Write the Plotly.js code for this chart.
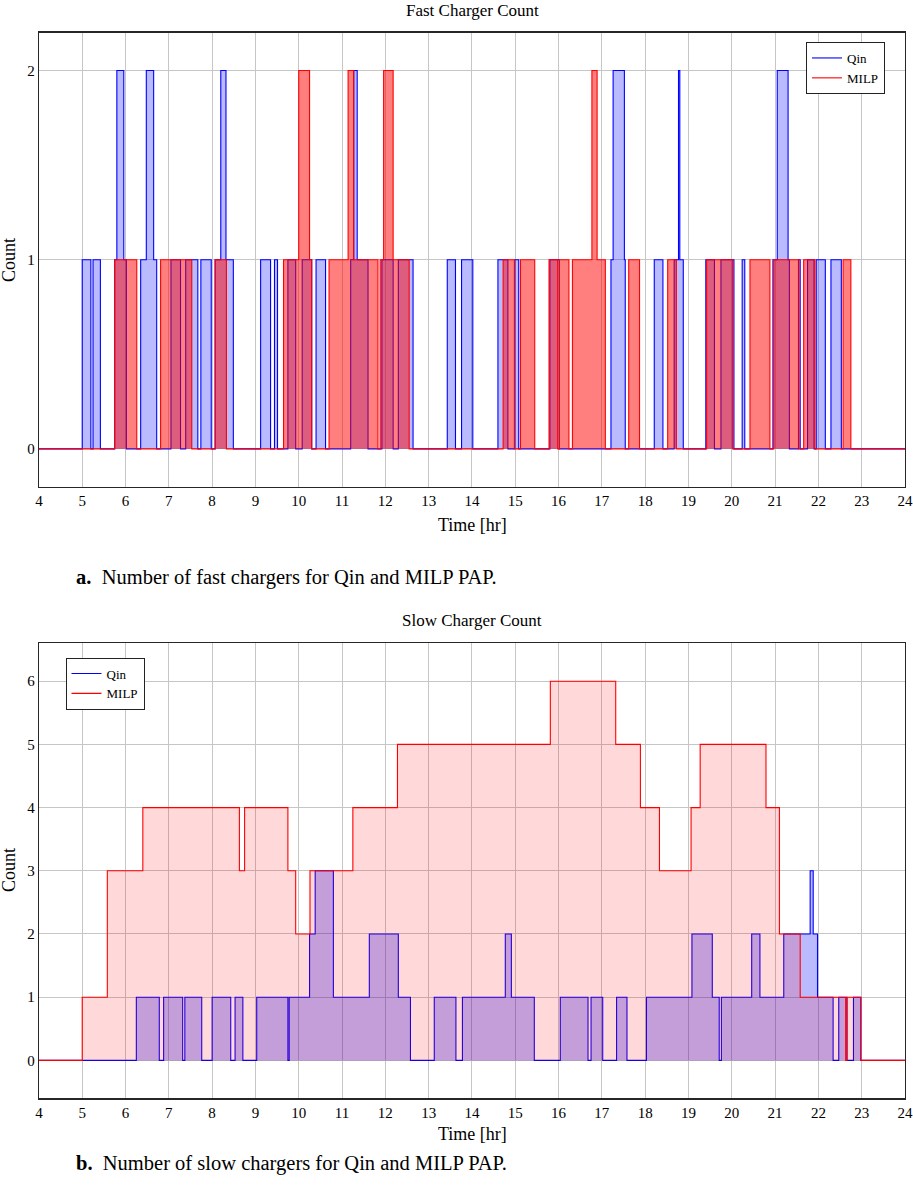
<!DOCTYPE html>
<html>
<head>
<meta charset="utf-8">
<script src="https://cdn.plot.ly/plotly-3.0.1.min.js"></script>
<style>
  html, body { margin: 0; padding: 0; background: #fff; }
  #chart { width: 913px; height: 1185px; }
</style>
</head>
<body>
<div id="chart"></div>
<script>
// Each series is a list of change points: time [hr] and the count from that time on.

// fast chargers, Qin
const qinFastT = [4, 5.0, 5.2, 5.25, 5.42, 5.75, 5.8, 5.96, 6.02, 6.35, 6.48, 6.65, 6.72,
  7.05, 7.27, 7.39, 7.67, 7.74, 7.98, 8.07, 8.2, 8.32, 8.49, 9.12, 9.35, 9.44, 9.51,
  9.75, 9.93, 10.08, 10.3, 10.4, 10.62, 11.2, 11.27, 11.35, 11.6, 11.92, 12.18, 12.3, 12.64,
  13.43, 13.62, 13.76, 14.02, 14.6, 14.83, 14.99, 15.08, 15.8, 16.02,
  17.21, 17.26, 17.52, 17.54, 18.21, 18.41, 18.67, 18.77, 18.8, 18.88,
  19.4, 19.6, 19.75, 20.05, 20.24, 20.3, 20.95, 21.05, 21.3, 21.33,
  21.54, 21.58, 21.75, 21.9, 21.95, 22.16, 22.29, 22.53, 24];
const qinFastN = [0, 1, 0, 1, 0, 1, 2, 1, 0, 1, 2, 1, 0,
  1, 0, 1, 0, 1, 0, 1, 2, 1, 0, 1, 0, 1, 0,
  1, 0, 1, 0, 1, 0, 1, 2, 1, 0, 1, 0, 1, 0,
  1, 0, 1, 0, 1, 0, 1, 0, 1, 0,
  1, 2, 1, 0, 1, 0, 1, 2, 1, 0,
  1, 0, 1, 0, 1, 0, 1, 2, 1, 0,
  1, 0, 1, 0, 1, 0, 1, 0, 0];

// fast chargers, MILP
const milpFastT = [4, 5.75, 6.26, 6.81, 7.53, 8.07, 8.33,
  9.65, 10.0, 10.25, 10.3, 10.7, 11.14, 11.27, 11.83, 11.88, 11.96, 12.18, 12.55,
  14.72, 14.98, 15.12, 15.45, 15.78, 15.98, 16.02, 16.24, 16.32, 16.77, 16.89, 17.08,
  17.62, 17.87, 18.52, 18.72, 19.42, 20.02, 20.42, 20.88, 20.97, 21.55,
  21.66, 21.92, 22.57, 22.75, 24];
const milpFastN = [0, 1, 0, 1, 0, 1, 0,
  1, 2, 1, 0, 1, 2, 1, 0, 1, 2, 1, 0,
  1, 0, 1, 0, 1, 0, 1, 0, 1, 2, 1, 0,
  1, 0, 1, 0, 1, 0, 1, 0, 1, 0,
  1, 0, 1, 0, 0];

// slow chargers, Qin
const qinSlowT = [4, 6.25, 6.78, 6.88, 7.32, 7.37, 7.76, 8.0, 8.43, 8.53, 8.71,
  9.03, 9.75, 9.78, 10.25, 10.38, 10.8, 11.63, 12.3, 12.58, 13.13, 13.63, 13.78,
  14.77, 14.91, 15.44, 16.04, 16.68, 16.75, 17.02, 17.34, 17.58, 18.03,
  19.08, 19.55, 19.71, 19.76, 20.46, 20.65, 21.2, 21.81, 21.88, 21.98,
  22.34, 22.47, 22.66, 22.81, 22.98, 24];
const qinSlowN = [0, 1, 0, 1, 0, 1, 0, 1, 0, 1, 0,
  1, 0, 1, 2, 3, 1, 2, 1, 0, 1, 0, 1,
  2, 1, 0, 1, 0, 1, 0, 1, 0, 1,
  2, 1, 0, 1, 2, 1, 2, 3, 2, 1,
  0, 1, 0, 1, 0, 0];

// slow chargers, MILP
const milpSlowT = [4, 5.0, 5.58, 6.4, 8.63, 8.75, 9.75, 9.93, 10.26, 11.25, 12.28,
  15.81, 17.32, 17.89, 18.33, 19.06, 19.27, 20.79, 21.1, 21.58, 22.63, 22.66, 22.98, 24];
const milpSlowN = [0, 1, 3, 4, 3, 4, 3, 2, 3, 4, 5,
  6, 5, 4, 3, 4, 5, 4, 2, 1, 0, 1, 0, 0];

const W = 913, H = 1185;
const px = x => x / W;
const py = y => 1 - y / H;
const serif = 'Liberation Serif, Times New Roman, serif';

function stepTrace(t, n, color, fill, xa, ya) {
  return {
    x: t, y: n, type: 'scatter', mode: 'lines',
    line: { color: color, width: 1.1, shape: 'hv' },
    fill: 'tozeroy', fillcolor: fill,
    xaxis: xa, yaxis: ya, showlegend: false, hoverinfo: 'skip'
  };
}

// legend entries show only the line, as in the original
function legendEntry(name, color, xa, ya, legend) {
  return {
    x: [null], y: [null], type: 'scatter', mode: 'lines', name: name,
    line: { color: color, width: 1.1 }, xaxis: xa, yaxis: ya, legend: legend
  };
}

const traces = [
  stepTrace(qinFastT, qinFastN, '#0000ff', 'rgba(0,0,255,0.27)', 'x', 'y'),
  stepTrace(milpFastT, milpFastN, '#ff0000', 'rgba(255,0,0,0.5)', 'x', 'y'),
  stepTrace(qinSlowT, qinSlowN, '#0000ff', 'rgba(0,0,255,0.27)', 'x2', 'y2'),
  stepTrace(milpSlowT, milpSlowN, '#ff0000', 'rgba(255,0,0,0.15)', 'x2', 'y2'),
  legendEntry('Qin', '#0000ff', 'x', 'y', 'legend'),
  legendEntry('MILP', '#ff0000', 'x', 'y', 'legend'),
  legendEntry('Qin', '#0000ff', 'x2', 'y2', 'legend2'),
  legendEntry('MILP', '#ff0000', 'x2', 'y2', 'legend2')
];

const axisBase = {
  showgrid: true, gridcolor: '#c6c6c6', gridwidth: 1,
  zeroline: false, showline: true, mirror: true,
  linecolor: '#262626', linewidth: 1.2,
  ticks: '', dtick: 1, fixedrange: true, ticklabeloverflow: 'allow',
  tickfont: { family: serif, size: 15, color: '#000' }
};
const xDomain = [px(38.9), px(905)];

const legendBase = {
  bgcolor: '#fff', bordercolor: '#222', borderwidth: 1,
  font: { family: serif, size: 13, color: '#000' },
  xanchor: 'left', yanchor: 'top', tracegroupgap: 0, itemwidth: 30
};

function note(text, x, y, size, extra) {
  return Object.assign({
    text: text, xref: 'paper', yref: 'paper', x: px(x), y: py(y),
    xanchor: 'center', yanchor: 'middle',
    showarrow: false, font: { family: serif, size: size, color: '#000' }
  }, extra || {});
}

const layout = {
  width: W, height: H,
  margin: { l: 0, r: 0, t: 0, b: 0 },
  paper_bgcolor: '#fff', plot_bgcolor: '#fff',
  xaxis: { ...axisBase, domain: xDomain, anchor: 'y', range: [4, 24], tick0: 4 },
  yaxis: { ...axisBase, domain: [py(486.7), py(32.7)], anchor: 'x', range: [-0.2, 2.2], tick0: 0 },
  xaxis2: { ...axisBase, domain: xDomain, anchor: 'y2', range: [4, 24], tick0: 4 },
  yaxis2: { ...axisBase, domain: [py(1098.3), py(643.3)], anchor: 'x2', range: [-0.6, 6.6], tick0: 0 },
  legend: { ...legendBase, x: px(806), y: py(42) },
  legend2: { ...legendBase, x: px(65.5), y: py(657.5) },
  annotations: [
    note('Fast Charger Count', 472, 10, 17),
    note('Slow Charger Count', 472, 620, 17),
    note('Time [hr]', 472, 525, 18),
    note('Time [hr]', 472, 1134, 18),
    note('Count', 9, 260, 18, { textangle: -90 }),
    note('Count', 9, 870, 18, { textangle: -90 }),
    note('<b>a.</b>&nbsp; Number of fast chargers for Qin and MILP PAP.', 74, 577, 20.5, { xanchor: 'left' }),
    note('<b>b.</b>&nbsp; Number of slow chargers for Qin and MILP PAP.', 74, 1163, 20.5, { xanchor: 'left' })
  ],
  showlegend: true,
  hovermode: false
};

Plotly.newPlot('chart', traces, layout, { displayModeBar: false, staticPlot: true });
</script>
</body>
</html>
